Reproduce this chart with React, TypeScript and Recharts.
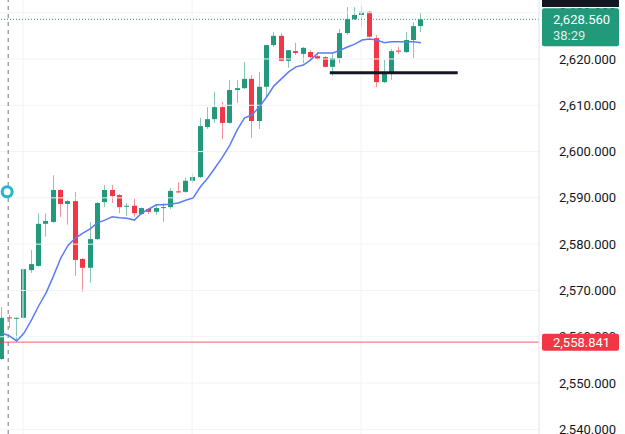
import {
  Bar,
  ComposedChart,
  Line,
  ReferenceDot,
  ReferenceLine,
  XAxis,
  YAxis,
} from "recharts";

const UP = "#22997a";
const DOWN = "#f23645";
const MA_BLUE = "#5b7cf7";
const FONT = "Roboto, 'Noto Sans', sans-serif";

// OHLC, one entry per candle (left to right)
const opens = [2555.2, 2564.2, 2564.0, 2564.1, 2574.4, 2575.3, 2584.4, 2584.8, 2591.7, 2588.7, 2589.3, 2576.8, 2574.9, 2581.1, 2589.1, 2591.7, 2590.6, 2588.2, 2588.3, 2586.5, 2587.6, 2587.0, 2587.9, 2588.0, 2591.4, 2591.3, 2593.7, 2594.5, 2605.3, 2607.0, 2609.6, 2606.2, 2613.3, 2613.7, 2615.7, 2606.6, 2614.0, 2623.0, 2625.0, 2619.6, 2621.7, 2621.1, 2621.5, 2620.6, 2620.4, 2618.3, 2620.2, 2625.6, 2628.6, 2629.5, 2630.2, 2624.5, 2615.0, 2617.0, 2621.8, 2621.5, 2624.1, 2627.1];
const highs = [2566.4, 2564.7, 2564.2, 2574.7, 2578.8, 2586.7, 2586.7, 2594.9, 2591.9, 2589.6, 2591.3, 2577.0, 2584.8, 2589.1, 2592.8, 2592.8, 2590.8, 2588.9, 2589.8, 2587.9, 2587.8, 2588.5, 2588.9, 2592.1, 2593.4, 2594.3, 2595.2, 2607.3, 2609.6, 2612.9, 2610.7, 2615.5, 2615.5, 2619.4, 2616.5, 2617.2, 2623.0, 2625.8, 2625.6, 2621.9, 2623.5, 2622.6, 2621.9, 2621.5, 2620.6, 2621.5, 2626.5, 2631.2, 2631.2, 2631.4, 2630.4, 2625.2, 2619.8, 2622.2, 2622.6, 2625.8, 2628.0, 2629.9];
const lows = [2555.0, 2561.9, 2559.3, 2564.0, 2573.8, 2575.1, 2581.6, 2584.6, 2585.9, 2584.2, 2573.1, 2569.7, 2571.6, 2580.9, 2588.0, 2588.9, 2586.7, 2586.1, 2585.9, 2586.3, 2586.5, 2586.3, 2584.8, 2587.6, 2591.1, 2591.1, 2593.2, 2594.3, 2604.9, 2606.2, 2602.7, 2606.0, 2610.5, 2613.5, 2602.9, 2604.9, 2611.6, 2622.6, 2619.5, 2618.1, 2620.9, 2619.1, 2619.8, 2619.8, 2618.2, 2616.3, 2619.1, 2625.2, 2628.4, 2626.9, 2624.6, 2613.9, 2614.8, 2615.5, 2621.1, 2621.3, 2620.2, 2625.8];
const closes = [2564.1, 2564.0, 2564.1, 2574.6, 2575.7, 2584.4, 2585.0, 2591.7, 2588.7, 2589.3, 2576.6, 2574.9, 2581.1, 2588.9, 2591.7, 2590.4, 2588.0, 2588.3, 2586.7, 2587.8, 2587.0, 2587.8, 2588.0, 2591.5, 2591.3, 2593.7, 2594.5, 2605.5, 2607.0, 2609.6, 2606.2, 2613.3, 2613.7, 2615.7, 2606.6, 2614.0, 2623.0, 2625.0, 2619.6, 2621.9, 2621.3, 2622.4, 2620.4, 2620.0, 2618.3, 2620.2, 2625.6, 2628.6, 2629.5, 2630.2, 2624.8, 2615.0, 2617.0, 2621.7, 2621.6, 2624.1, 2627.1, 2628.56];
// moving average (blue line)
const ma = [2560.8, 2560.2, 2559.1, 2560.8, 2563.6, 2566.7, 2569.5, 2573.1, 2577.0, 2579.8, 2581.3, 2582.4, 2583.3, 2584.6, 2585.2, 2585.9, 2585.7, 2585.6, 2585.2, 2586.7, 2587.6, 2588.5, 2588.5, 2588.7, 2588.9, 2589.5, 2590.0, 2592.4, 2594.3, 2596.5, 2598.8, 2601.4, 2604.7, 2607.3, 2607.9, 2609.6, 2611.8, 2614.2, 2615.7, 2617.2, 2618.3, 2618.7, 2619.8, 2621.3, 2621.3, 2621.3, 2621.9, 2622.6, 2623.2, 2624.1, 2624.3, 2624.1, 2623.5, 2623.7, 2623.7, 2623.7, 2623.7, 2623.5];

const priceTicks = [2540, 2550, 2560, 2570, 2580, 2590, 2600, 2610, 2620, 2630];
const lastPrice = 2628.56;
const countdown = "38:29";
const redLevel = 2558.841;
const supportLevel = 2617.0;
const supportFrom = 44.6;
const supportTo = 62;
const gridX = [2.86, 25.86, 48.86];

const X_DOMAIN: [number, number] = [-0.27, 73.06];
const Y_DOMAIN: [number, number] = [2539.0, 2632.74];
const AXIS_W = 86;

const data = opens.map((o, i) => ({
  i,
  open: o,
  high: highs[i],
  low: lows[i],
  close: closes[i],
  range: [lows[i], highs[i]],
  ma: ma[i],
}));

const fmt = (v: number) =>
  v.toLocaleString("en-US", { minimumFractionDigits: 3, maximumFractionDigits: 3 });

function Candle(props: any) {
  const { x, y, width, height, payload } = props;
  const { open, close, high, low } = payload;
  const top = Math.min(y, y + height);
  const bot = Math.max(y, y + height);
  const span = high - low || 1;
  const toY = (v: number) => top + ((high - v) / span) * (bot - top);
  const up = close >= open;
  const col = up ? UP : DOWN;
  const x0 = Math.round(x + width / 2 - 2.5);
  const bTop = toY(Math.max(open, close));
  const bH = Math.max(1, toY(Math.min(open, close)) - bTop);
  return (
    <g>
      <line x1={x0 + 2.5} x2={x0 + 2.5} y1={top} y2={bot} stroke={col} strokeOpacity={0.55} strokeWidth={1} />
      <rect x={x0} y={bTop} width={5} height={bH} fill={col} />
    </g>
  );
}

function LastTag(props: any) {
  const vb = props.viewBox || {};
  const left = vb.x + vb.width + 3;
  const y = vb.y;
  return (
    <g>
      <rect x={left} y={-2} width={77} height={9} fill="#131722" />
      <rect x={left} y={y - 11} width={77} height={38} rx={2} fill={UP} />
      <text x={left + 11} y={y + 4.5} fill="#fff" fontSize={13} fontFamily={FONT}>
        {fmt(lastPrice)}
      </text>
      <text x={left + 11} y={y + 21} fill="#fff" fillOpacity={0.85} fontSize={13} fontFamily={FONT}>
        {countdown}
      </text>
    </g>
  );
}

function RedTag(props: any) {
  const vb = props.viewBox || {};
  const left = vb.x + vb.width + 3;
  const y = vb.y;
  return (
    <g>
      <rect x={left} y={y - 8.5} width={77} height={17} rx={2} fill={DOWN} />
      <text x={left + 11} y={y + 4.5} fill="#fff" fontSize={13} fontFamily={FONT}>
        {fmt(redLevel)}
      </text>
    </g>
  );
}

function Marker(props: any) {
  const { cx, cy } = props;
  return <circle cx={cx} cy={cy} r={5} fill="#fff" stroke="#22b5d0" strokeWidth={3} />;
}

export default function App() {
  return (
    <div style={{ position: "absolute", left: 0, top: 0, width: 625, height: 434, background: "#fff" }}>
      <div style={{ position: "absolute", left: 0, top: 0 }}>
        <ComposedChart width={625} height={434} data={data} margin={{ top: 0, right: 0, bottom: 0, left: 0 }}>
          <XAxis dataKey="i" type="number" domain={X_DOMAIN} allowDataOverflow hide />
          <YAxis
            orientation="right"
            width={AXIS_W}
            domain={Y_DOMAIN}
            allowDataOverflow
            ticks={priceTicks}
            interval={0}
            tickFormatter={fmt}
            tickLine={false}
            tickMargin={14}
            axisLine={{ stroke: "#e0e3eb" }}
            tick={{ fontSize: 13, fill: "#131722", fontFamily: FONT, textAnchor: "start" }}
          />
          {priceTicks.map((t) => (
            <ReferenceLine key={"h" + t} y={t} stroke="#f0f3fa" strokeWidth={1} />
          ))}
          {gridX.map((g) => (
            <ReferenceLine key={"v" + g} x={g} stroke="#f0f3fa" strokeWidth={1} />
          ))}
          <ReferenceLine x={0.85} stroke="#9598a1" strokeDasharray="4 4" strokeWidth={1.3} />
          <ReferenceLine y={redLevel} stroke={DOWN} strokeOpacity={0.8} strokeWidth={1} />
          <ReferenceLine y={lastPrice} stroke={UP} strokeDasharray="1 2" strokeWidth={1} />
          <Bar dataKey="range" barSize={5} shape={<Candle />} isAnimationActive={false} />
          <Line dataKey="ma" type="linear" stroke={MA_BLUE} strokeWidth={1.5} dot={false} activeDot={false} isAnimationActive={false} />
          <ReferenceLine
            segment={[
              { x: supportFrom, y: supportLevel },
              { x: supportTo, y: supportLevel },
            ]}
            stroke="#131722"
            strokeWidth={3}
          />
          <ReferenceDot x={0.7} y={2591.3} r={5} shape={<Marker />} />
        </ComposedChart>
      </div>
      {/* price tags sit above the axis labels, so they get their own layer */}
      <div style={{ position: "absolute", left: 0, top: 0 }}>
        <ComposedChart width={625} height={434} data={data} margin={{ top: 0, right: AXIS_W, bottom: 0, left: 0 }}>
          <XAxis dataKey="i" type="number" domain={X_DOMAIN} allowDataOverflow hide />
          <YAxis domain={Y_DOMAIN} allowDataOverflow hide />
          <ReferenceLine y={redLevel} stroke="none" label={<RedTag />} />
          <ReferenceLine y={lastPrice} stroke="none" label={<LastTag />} />
        </ComposedChart>
      </div>
    </div>
  );
}
